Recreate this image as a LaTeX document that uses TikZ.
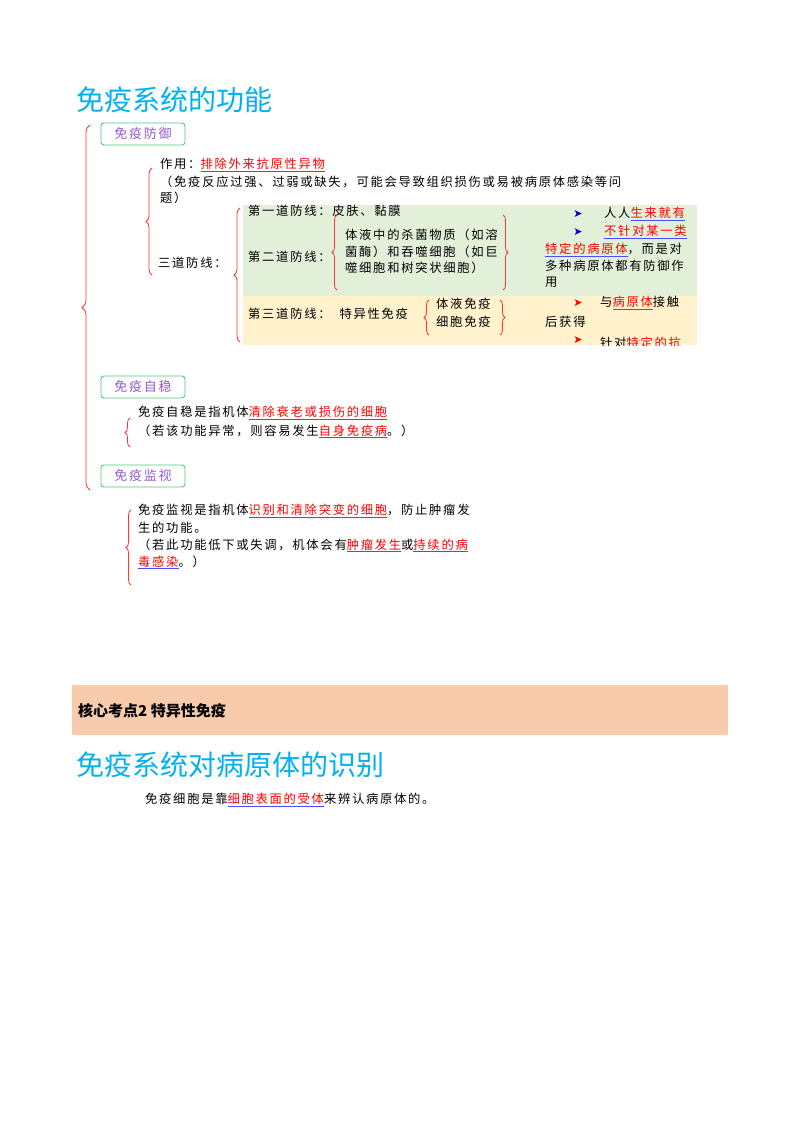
\documentclass[tikz,border=0pt]{standalone}
\usepackage{fontspec}
\setmainfont[LetterSpace=14]{Noto Sans CJK SC}
\newfontfamily\symfont{DejaVu Sans}
\usetikzlibrary{decorations.pathreplacing}
\definecolor{titlecyan}{RGB}{0,176,240}
\definecolor{boxgreen}{RGB}{80,200,120}
\definecolor{boxpurple}{RGB}{150,90,200}
\definecolor{lightgreen}{RGB}{226,239,217}
\definecolor{lightyellow}{RGB}{255,242,204}
\definecolor{bandorange}{RGB}{248,203,173}
\newsavebox\hlbox
\newcommand\hl[1]{\sbox\hlbox{\textcolor{red}{#1}}\rlap{\usebox\hlbox}\textcolor{blue!70}{\rule[-2.5pt]{\wd\hlbox}{0.7pt}}}
\tikzset{
  title/.style={anchor=west,text=titlecyan,font=\addfontfeature{LetterSpace=0}\fontsize{28}{30}\selectfont,inner sep=0},
  box/.style={draw=boxgreen,line width=0.9pt,rounded corners=3pt,text=boxpurple,minimum width=84pt,minimum height=22pt,font=\fontsize{13}{15}\selectfont,inner sep=0},
  txt/.style={anchor=west,inner sep=0,font=\fontsize{12.3}{14}\selectfont},
  brc/.style={draw=red!80,line width=0.8pt,decorate,decoration={brace,amplitude=6pt}},
  tip/.style={font=\symfont\fontsize{11}{12}\selectfont,inner sep=0}
}
\begin{document}
\begin{tikzpicture}[x=1pt,y=-1pt]
\useasboundingbox (0,0) rectangle (800,1132);
% backgrounds
\fill[lightgreen] (243,205) rectangle (697,296);
\fill[lightyellow] (243,296) rectangle (697,345);
\fill[bandorange] (72,685) rectangle (728,735);
% titles
\node[title] (t1) at (76,100) {免疫系统的功能};
\node[title] (t2) at (76,765) {免疫系统对病原体的识别};
\node[txt,font=\addfontfeature{LetterSpace=0}\fontsize{15}{17}\selectfont\bfseries] (core) at (78,711) {核心考点2 特异性免疫};
% main brace
\draw[brc,decoration={mirror,amplitude=8pt}] (90,125) -- (90,490);
\node[box] (fy) at (143,134) {免疫防御};
\node[box] (zw) at (143,387) {免疫自稳};
\node[box] (jk) at (143,476) {免疫监视};
% defence
\draw[brc,decoration={mirror}] (152,168) -- (152,275);
\node[txt] (zy) at (160,165) {作用：\hl{排除外来抗原性异物}};
\node[txt] (zy2) at (160,182) {（免疫反应过强、过弱或缺失，可能会导致组织损伤或易被病原体感染等问};
\node[txt] (zy3) at (160,198) {题）};
\node[txt] (sd) at (158,263) {三道防线：};
\draw[brc,decoration={mirror}] (240,208) -- (240,342);
\node[txt] (d1) at (248,211) {第一道防线：皮肤、黏膜};
\node[txt] (d2) at (248,257) {第二道防线：};
\draw[brc,decoration={mirror,amplitude=5pt}] (337,215) -- (337,290);
\node[txt] (d2a) at (345,235) {体液中的杀菌物质（如溶};
\node[txt] (d2b) at (345,252) {菌酶）和吞噬细胞（如巨};
\node[txt] (d2c) at (345,268) {噬细胞和树突状细胞）};
\draw[brc,decoration={amplitude=5pt}] (503,215) -- (503,290);
\node[tip,text=blue!80!black] (a1) at (578,214) {➤};
\node[tip,text=blue!80!black] (a2) at (578,232) {➤};
\node[txt] (r1) at (604,214) {人人\hl{生来就有}};
\node[txt] (r2) at (604,232) {\hl{不针对某一类}};
\node[txt] (r3) at (545,250) {\hl{特定的病原体}，而是对};
\node[txt] (r4) at (545,266) {多种病原体都有防御作};
\node[txt] (r5) at (545,282) {用};
\node[txt] (d3) at (248,314) {第三道防线：\ \ 特异性免疫};
\draw[brc,decoration={mirror,amplitude=5pt}] (429,300) -- (429,335);
\node[txt] (d3a) at (436,304) {体液免疫};
\node[txt] (d3b) at (436,322) {细胞免疫};
\draw[brc,decoration={amplitude=5pt}] (500,300) -- (500,335);
\node[tip,text=red] (a3) at (578,303) {➤};
\node[txt] (s1) at (600,303) {与\hl{病原体}接触};
\node[txt] (s2) at (545,322) {后获得};
\begin{scope}
\clip (243,296) rectangle (697,345);
\node[tip,text=red] (a4) at (578,340) {➤};
\node[txt] (s3) at (600,343) {针对\textcolor{red}{特定的抗}};
\end{scope}
% homeostasis
\draw[brc,decoration={mirror,amplitude=5pt}] (130,418) -- (130,447);
\node[txt] (zw1) at (138,413) {免疫自稳是指机体\hl{清除衰老或损伤的细胞}};
\node[txt] (zw2) at (138,431) {（若该功能异常，则容易发生\hl{自身免疫病}。）};
% surveillance
\draw[brc,decoration={mirror,amplitude=5pt}] (131,510) -- (131,585);
\node[txt] (jk1) at (138,511) {免疫监视是指机体\hl{识别和清除突变的细胞}，防止肿瘤发};
\node[txt] (jk2) at (138,528) {生的功能。};
\node[txt] (jk3) at (138,545) {（若此功能低下或失调，机体会有\hl{肿瘤发生}或\hl{持续的病}};
\node[txt] (jk4) at (138,562) {\hl{毒感染}。）};
% recognition
\node[txt] (sb) at (145,800) {免疫细胞是靠\hl{细胞表面的受体}来辨认病原体的。};
\end{tikzpicture}
\end{document}
